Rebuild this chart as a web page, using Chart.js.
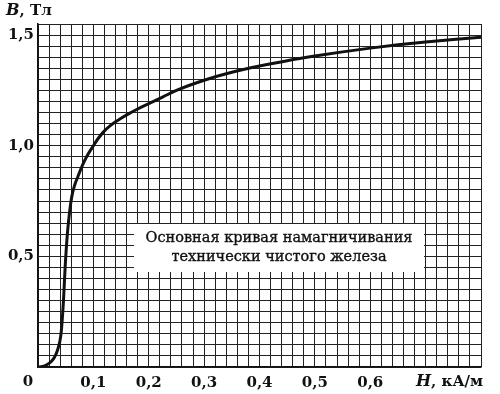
<!DOCTYPE html>
<html>
<head>
<meta charset="utf-8">
<script src="https://cdn.jsdelivr.net/npm/chart.js@4/dist/chart.umd.min.js"></script>
<style>
  html, body { margin: 0; padding: 0; background: #fff; }
  #wrap { width: 500px; height: 394px; position: relative; }
</style>
</head>
<body>
<div id="wrap"><canvas id="bhChart"></canvas></div>
<script>
// Magnetisation curve: H in kA/m, B in T
const hValues = [0, 0.008, 0.016, 0.024, 0.030, 0.035, 0.039, 0.042, 0.046, 0.049, 0.053, 0.057,
                 0.061, 0.066, 0.072, 0.08, 0.09, 0.1, 0.11, 0.12, 0.13, 0.14, 0.15, 0.165,
                 0.18, 0.2, 0.225, 0.25, 0.3, 0.35, 0.4, 0.45, 0.5, 0.55, 0.6, 0.65, 0.7,
                 0.75, 0.8];
const bValues = [0, 0.002, 0.01, 0.025, 0.045, 0.075, 0.11, 0.16, 0.3, 0.45, 0.6, 0.7,
                 0.77, 0.82, 0.86, 0.91, 0.96, 1.0, 1.037, 1.067, 1.09, 1.108, 1.124, 1.146,
                 1.166, 1.19, 1.22, 1.25, 1.296, 1.332, 1.36, 1.384, 1.405, 1.424, 1.441,
                 1.456, 1.469, 1.48, 1.49];

// tick labels (only these get text, the rest of the grid is bare)
const xTickValues = [0.1, 0.2, 0.3, 0.4, 0.5, 0.6];
const xTickLabels = ['0,1', '0,2', '0,3', '0,4', '0,5', '0,6'];
const yTickValues = [0.5, 1.0, 1.5];
const yTickLabels = ['0,5', '1,0', '1,5'];

const originLabel = '0';
const captionLines = ['Основная кривая намагничивания', 'технически чистого железа'];

const serif = '"DejaVu Serif", "Liberation Serif", serif';

function labelFor(v, vals, labels) {
    const i = vals.findIndex(t => Math.abs(t - v) < 1e-6);
    return i >= 0 ? labels[i] : '';
}

// --- extra text: axis names, origin, caption box ---
const annotations = {
    id: 'annotations',
    beforeDatasetsDraw(chart) {
        const ctx = chart.ctx;
        // caption box sits on the grid, under the curve
        const bx1 = 134, bx2 = 424, by1 = 224, by2 = 272;
        ctx.save();
        ctx.fillStyle = '#fff';
        ctx.fillRect(bx1, by1, bx2 - bx1, by2 - by1);
        ctx.fillStyle = '#111';
        ctx.strokeStyle = '#111';
        ctx.lineWidth = 0.35;
        ctx.font = '14.5px ' + serif;
        ctx.textAlign = 'center';
        ctx.textBaseline = 'middle';
        const cx = (bx1 + bx2) / 2;
        captionLines.forEach((line, i) => {
            ctx.fillText(line, cx, 238 + i * 19);
            ctx.strokeText(line, cx, 238 + i * 19);
        });
        ctx.restore();
    },
    afterDraw(chart) {
        const ctx = chart.ctx;
        const area = chart.chartArea;
        ctx.save();
        ctx.fillStyle = '#111';
        ctx.textBaseline = 'middle';
        ctx.textAlign = 'center';
        ctx.font = 'bold 15px ' + serif;
        ctx.fillText(originLabel, area.left - 10, area.bottom + 15);

        // "B, Тл"
        ctx.textAlign = 'left';
        ctx.font = 'italic bold 16px ' + serif;
        ctx.fillText('B', 6, 11);
        let w = ctx.measureText('B').width;
        ctx.font = 'bold 15px ' + serif;
        ctx.fillText(', Тл', 6 + w, 11);

        // "H, кА/м"
        ctx.font = 'italic bold 16px ' + serif;
        ctx.fillText('H', 416, area.bottom + 15);
        w = ctx.measureText('H').width;
        ctx.font = 'bold 15px ' + serif;
        ctx.fillText(', кА/м', 416 + w, area.bottom + 15);
        ctx.restore();
    }
};

const ctx = document.getElementById('bhChart').getContext('2d');
new Chart(ctx, {
    type: 'line',
    data: {
        datasets: [{
            data: hValues.map((h, i) => ({ x: h, y: bValues[i] })),
            borderColor: '#111',
            borderWidth: 3,
            pointRadius: 0,
            fill: false,
            cubicInterpolationMode: 'monotone'
        }]
    },
    options: {
        responsive: true,
        maintainAspectRatio: false,
        animation: false,
        layout: { padding: { top: 24, right: 19, left: 0, bottom: 0 } },
        plugins: { legend: { display: false }, tooltip: { enabled: false } },
        scales: {
            x: {
                type: 'linear',
                min: 0,
                max: 0.8,
                afterFit(scale) { scale.height = 27; },
                grid: { color: '#222', lineWidth: 1, drawTicks: false },
                border: { color: '#111', width: 1.5 },
                ticks: {
                    stepSize: 0.02,
                    autoSkip: false,
                    maxRotation: 0,
                    padding: 7,
                    color: '#111',
                    font: { family: serif, size: 15, weight: 'bold' },
                    callback: v => labelFor(v, xTickValues, xTickLabels)
                }
            },
            y: {
                min: 0,
                max: 1.55,
                afterFit(scale) { scale.width = 38; },
                grid: { color: '#222', lineWidth: 1, drawTicks: false },
                border: { color: '#111', width: 1.5 },
                ticks: {
                    stepSize: 0.05,
                    autoSkip: false,
                    padding: 4,
                    color: '#111',
                    font: { family: serif, size: 15, weight: 'bold' },
                    callback: v => labelFor(v, yTickValues, yTickLabels)
                }
            }
        }
    },
    plugins: [annotations]
});
</script>
</body>
</html>
